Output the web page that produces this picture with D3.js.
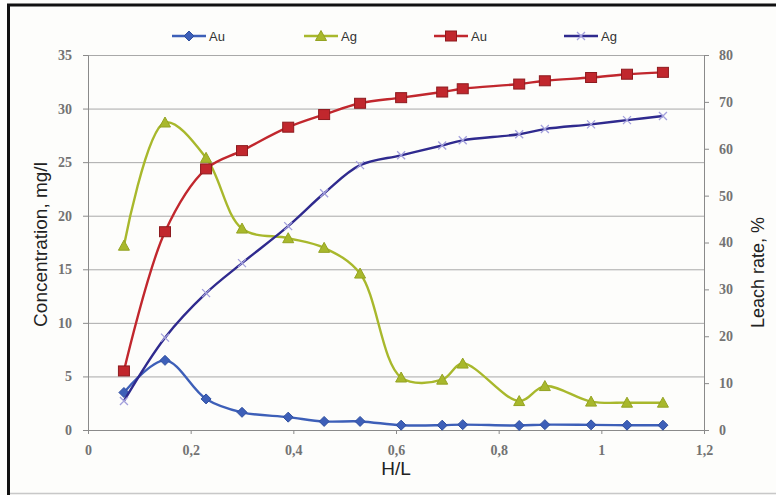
<!DOCTYPE html>
<html>
<head>
<meta charset="utf-8">
<script src="https://cdn.jsdelivr.net/npm/d3@7.9.0/dist/d3.min.js"></script>
<style>
  html, body { margin: 0; padding: 0; background: #fff; }
  svg { display: block; }
</style>
</head>
<body>
<div id="chart"></div>
<script>
// H/L ratio (x axis)
const hl = [0.07, 0.15, 0.23, 0.30, 0.39, 0.46, 0.53, 0.61, 0.69, 0.73, 0.84, 0.89, 0.98, 1.05, 1.12];
// Concentration, mg/l (left axis)
const auConc = [3.5, 6.5, 2.9, 1.65, 1.2, 0.8, 0.8, 0.45, 0.45, 0.5, 0.42, 0.5, 0.48, 0.45, 0.45];
const agConc = [17.2, 28.7, 25.4, 18.8, 17.9, 17.0, 14.6, 4.9, 4.7, 6.2, 2.7, 4.1, 2.65, 2.55, 2.55];
// Leach rate, % (right axis)
const auRate = [12.6, 42.3, 55.7, 59.6, 64.6, 67.3, 69.7, 70.9, 72.1, 72.8, 73.8, 74.5, 75.2, 75.9, 76.3];
const agRate = [6.2, 19.7, 29.2, 35.6, 43.5, 50.5, 56.5, 58.6, 60.7, 61.8, 63.1, 64.2, 65.2, 66.1, 67.0];

const xTicks = [0, 0.2, 0.4, 0.6, 0.8, 1, 1.2];
const leftTicks = [0, 5, 10, 15, 20, 25, 30, 35];
const rightTicks = [0, 10, 20, 30, 40, 50, 60, 70, 80];
const legendNames = ['Au', 'Ag', 'Au', 'Ag'];

const width = 776;
const height = 495;
const plot = { left: 88, right: 704, top: 55, bottom: 430 };

const svg = d3.select('#chart')
  .append('svg')
  .attr('width', width)
  .attr('height', height);

svg.append('rect').attr('width', width).attr('height', height).attr('fill', '#fdfdfb');

// scanned frame
svg.append('line').attr('x1', 7).attr('x2', width).attr('y1', 5).attr('y2', 5)
  .attr('stroke', '#111').attr('stroke-width', 3);
svg.append('line').attr('x1', 8.5).attr('x2', 8.5).attr('y1', 4).attr('y2', height)
  .attr('stroke', '#111').attr('stroke-width', 3);
svg.append('line').attr('x1', 10).attr('x2', width).attr('y1', 493.5).attr('y2', 493.5)
  .attr('stroke', '#c8c8c8').attr('stroke-width', 1.5);

const x = d3.scaleLinear().domain([0, 1.2]).range([plot.left, plot.right]);
const yL = d3.scaleLinear().domain([0, 35]).range([plot.bottom, plot.top]);
const yR = d3.scaleLinear().domain([0, 80]).range([plot.bottom, plot.top]);

const tickFont = 'Liberation Serif, serif';
const fmt = (d) => String(d).replace('.', ',');

// gridlines
svg.append('g')
  .attr('transform', `translate(${plot.left},0)`)
  .call(d3.axisLeft(yL).tickValues(leftTicks).tickFormat('').tickSize(-(plot.right - plot.left)))
  .call((g) => g.select('.domain').remove())
  .call((g) => g.selectAll('line').attr('stroke', '#a9a9a9').attr('stroke-width', 1));

// left axis
svg.append('g')
  .attr('transform', `translate(${plot.left},0)`)
  .call(d3.axisLeft(yL).tickValues(leftTicks).tickSize(5).tickPadding(11).tickFormat(fmt))
  .call((g) => g.select('.domain').attr('stroke', '#8a8a8a'))
  .call((g) => g.selectAll('line').attr('stroke', '#8a8a8a'))
  .call((g) => g.selectAll('text').attr('fill', '#737373').attr('font-family', tickFont)
    .attr('font-size', 14).attr('font-weight', 'bold'));

// right axis
svg.append('g')
  .attr('transform', `translate(${plot.right},0)`)
  .call(d3.axisRight(yR).tickValues(rightTicks).tickSize(5).tickPadding(10).tickFormat(fmt))
  .call((g) => g.select('.domain').attr('stroke', '#8a8a8a'))
  .call((g) => g.selectAll('line').attr('stroke', '#8a8a8a'))
  .call((g) => g.selectAll('text').attr('fill', '#737373').attr('font-family', tickFont)
    .attr('font-size', 14).attr('font-weight', 'bold'));

// x axis
svg.append('g')
  .attr('transform', `translate(0,${plot.bottom})`)
  .call(d3.axisBottom(x).tickValues(xTicks).tickSize(4).tickPadding(11).tickFormat(fmt))
  .call((g) => g.select('.domain').attr('stroke', '#8a8a8a'))
  .call((g) => g.selectAll('line').attr('stroke', '#8a8a8a'))
  .call((g) => g.selectAll('text').attr('fill', '#737373').attr('font-family', tickFont)
    .attr('font-size', 14).attr('font-weight', 'bold'));

// axis titles
const titleFont = 'Liberation Sans, Arial, sans-serif';
svg.append('text')
  .attr('transform', `translate(47,${(plot.top + plot.bottom) / 2 + 2}) rotate(-90)`)
  .attr('text-anchor', 'middle')
  .attr('font-family', titleFont).attr('font-size', 19).attr('fill', '#222')
  .text('Concentration, mg/l');
svg.append('text')
  .attr('transform', `translate(764,${(plot.top + plot.bottom) / 2 + 30}) rotate(-90)`)
  .attr('text-anchor', 'middle')
  .attr('font-family', titleFont).attr('font-size', 18).attr('fill', '#222')
  .text('Leach rate, %');
svg.append('text')
  .attr('x', x(0.6)).attr('y', 475)
  .attr('text-anchor', 'middle')
  .attr('font-family', titleFont).attr('font-size', 19).attr('fill', '#222')
  .text('H/L');

// series
const series = [
  { name: legendNames[0], values: auConc, y: yL, color: '#3d5fb8', marker: 'diamond', fill: '#3d5fb8', stroke: '#2f4f9f' },
  { name: legendNames[1], values: agConc, y: yL, color: '#a8b82c', marker: 'triangle', fill: '#a8b82c', stroke: '#94a322' },
  { name: legendNames[2], values: auRate, y: yR, color: '#c1272d', marker: 'square', fill: '#c1272d', stroke: '#8e1b1f' },
  { name: legendNames[3], values: agRate, y: yR, color: '#2f2a8e', marker: 'cross', fill: 'none', stroke: '#a3a0dc' },
];

function drawMarker(g, type, s) {
  if (type === 'diamond') {
    g.append('path').attr('d', 'M0,-5L5,0L0,5L-5,0Z')
      .attr('fill', s.fill).attr('stroke', s.stroke).attr('stroke-width', 1);
  } else if (type === 'triangle') {
    g.append('path').attr('d', 'M0,-5.5L5.5,4.5L-5.5,4.5Z')
      .attr('fill', s.fill).attr('stroke', s.stroke).attr('stroke-width', 1);
  } else if (type === 'square') {
    g.append('rect').attr('x', -5.5).attr('y', -5).attr('width', 11).attr('height', 10)
      .attr('fill', s.fill).attr('stroke', s.stroke).attr('stroke-width', 1);
  } else {
    g.append('path').attr('d', 'M-4,-4L4,4M-4,4L4,-4')
      .attr('fill', 'none').attr('stroke', s.stroke).attr('stroke-width', 1.3);
  }
}

const line = d3.line().curve(d3.curveCatmullRom.alpha(0.5));

series.forEach((s) => {
  const pts = hl.map((h, i) => [x(h), s.y(s.values[i])]);
  svg.append('path')
    .attr('d', line(pts))
    .attr('fill', 'none')
    .attr('stroke', s.color)
    .attr('stroke-width', 2.4);
  pts.forEach(([px, py]) => {
    const g = svg.append('g').attr('transform', `translate(${px},${py})`);
    drawMarker(g, s.marker, s);
  });
});

// legend
const legendX = [172, 304, 434, 564];
const legendY = 36;
series.forEach((s, i) => {
  const lx = legendX[i];
  svg.append('line')
    .attr('x1', lx).attr('x2', lx + 34).attr('y1', legendY).attr('y2', legendY)
    .attr('stroke', s.color).attr('stroke-width', 2.4);
  const g = svg.append('g').attr('transform', `translate(${lx + 17},${legendY})`);
  drawMarker(g, s.marker, s);
  svg.append('text')
    .attr('x', lx + 37).attr('y', legendY + 4.5)
    .attr('font-family', 'Liberation Sans, Arial, sans-serif')
    .attr('font-size', 13).attr('fill', '#333')
    .text(s.name);
});
</script>
</body>
</html>
